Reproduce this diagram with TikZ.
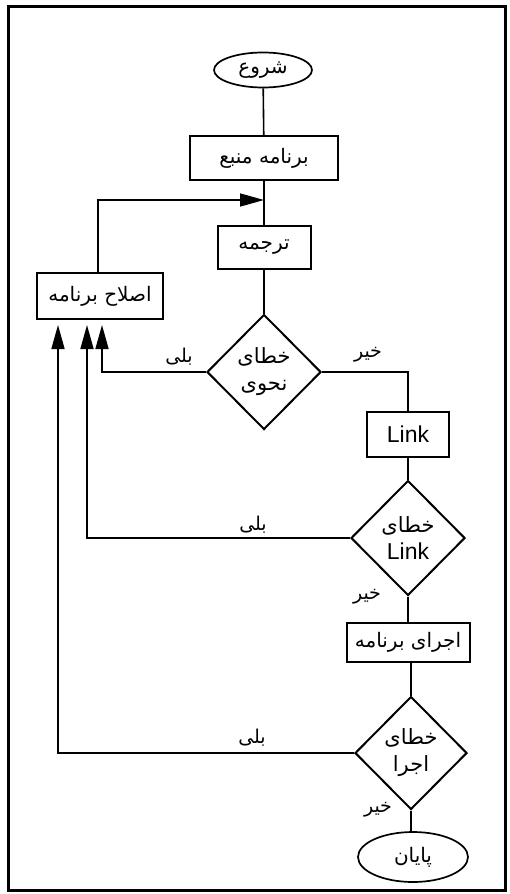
\documentclass[tikz,border=0pt]{standalone}
\usepackage{fontspec}
\setmainfont{Liberation Sans}
\newfontfamily\fafont[Script=Arabic]{DejaVu Sans}
\TeXXeTstate=1
\usetikzlibrary{shapes.geometric,arrows.meta}
\newcommand{\fatxt}[1]{{\fafont\beginR #1\endR}}
\begin{document}
\begin{tikzpicture}[x=1pt,y=-1pt,
  procbox/.style={draw,line width=2pt,inner sep=0pt,font=\fontsize{20}{24}\selectfont},
  decis/.style={draw,diamond,line width=2pt,inner sep=0pt,minimum width=114pt,minimum height=115pt,align=center,font=\fontsize{21}{27}\selectfont},
  term/.style={draw,ellipse,line width=1.7pt,inner sep=0pt,font=\fontsize{20}{24}\selectfont},
  conn/.style={line width=1.6pt},
  back/.style={conn,-{Triangle[length=24pt,width=13pt]}},
  lbl/.style={font=\fontsize{19}{22}\selectfont,inner sep=0pt},
  latin/.style={font=\fontsize{23}{27}\selectfont}]
\useasboundingbox (0,0) rectangle (510,894);
\draw[line width=3pt] (8,6) rectangle (505,890);

\node[term,minimum width=98pt,minimum height=35pt] (start) at (263,70) {\fatxt{شروع}};
\node[procbox,minimum width=148pt,minimum height=44pt] (src) at (264,158) {\fatxt{برنامه منبع}};
\node[procbox,minimum width=93pt,minimum height=43pt] (tr) at (264,247) {\fatxt{ترجمه}};
\node[procbox,minimum width=126pt,minimum height=46pt] (fix) at (100,296) {\fatxt{اصلاح برنامه}};
\node[decis] (d1) at (264,372) {\fatxt{خطای}\\\fatxt{نحوی}};
\node[procbox,minimum width=82pt,minimum height=45pt,latin] (link) at (408,434) {Link};
\node[decis] (d2) at (408,538) {\fatxt{خطای}\\{\fontsize{23}{27}\selectfont Link}};
\node[procbox,minimum width=123pt,minimum height=39pt] (run) at (408,642) {\fatxt{اجرای برنامه}};
\node[decis,minimum width=112pt,minimum height=113pt] (d3) at (411,753) {\fatxt{خطای}\\\fatxt{اجرا}};
\node[term,minimum width=110pt,minimum height=50pt] (end) at (413,857) {\fatxt{پایان}};

\coordinate (m1) at (264,200);
\coordinate (a1) at (102,325);
\coordinate (a2) at (87,325);
\coordinate (a3) at (58,325);

\draw[conn] (start) -- (src);
\draw[conn] (src) -- (tr);
\draw[conn] (tr) -- (d1);
\draw[back] ([xshift=-2pt]fix.north) |- (m1);
\draw[back] (d1.west) -| (a1);
\draw[back] (d2.west) -| (a2);
\draw[back] (d3.west) -| (a3);
\draw[conn] (d1.east) -| (link.north);
\draw[conn] (link) -- (d2);
\draw[conn] (d2) -- (run);
\draw[conn] (d3.north |- run.south) -- (d3.north);
\draw[conn] (d3.south) -- (end.north -| d3.south);

\node[lbl] (l1) at (179,357) {\fatxt{بلی}};
\node[lbl] (l2) at (368,355) {\fatxt{خیر}};
\node[lbl] (l3) at (253,525) {\fatxt{بلی}};
\node[lbl] (l4) at (367,597) {\fatxt{خیر}};
\node[lbl] (l5) at (252,738) {\fatxt{بلی}};
\node[lbl] (l6) at (378,810) {\fatxt{خیر}};
\end{tikzpicture}
\end{document}
